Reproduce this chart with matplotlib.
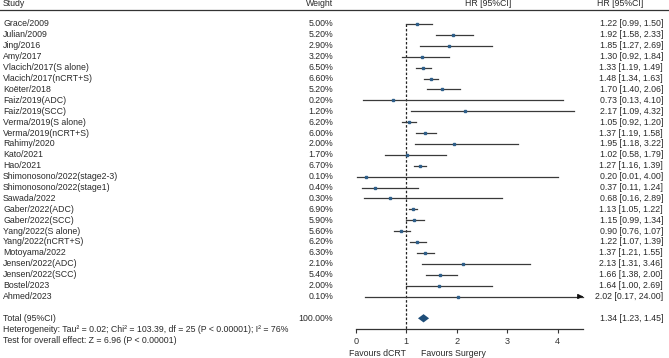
import matplotlib
matplotlib.use("Agg")
import matplotlib.pyplot as plt
import matplotlib.transforms as mtransforms
import numpy as np

plt.rcParams['font.family'] = ['Liberation Sans', 'DejaVu Sans']

studies = ["Grace/2009", "Julian/2009", "Jing/2016", "Amy/2017", "Vlacich/2017(S alone)",
           "Vlacich/2017(nCRT+S)", "Koëter/2018", "Faiz/2019(ADC)", "Faiz/2019(SCC)",
           "Verma/2019(S alone)", "Verma/2019(nCRT+S)", "Rahimy/2020", "Kato/2021", "Hao/2021",
           "Shimonosono/2022(stage2-3)", "Shimonosono/2022(stage1)", "Sawada/2022",
           "Gaber/2022(ADC)", "Gaber/2022(SCC)", "Yang/2022(S alone)", "Yang/2022(nCRT+S)",
           "Motoyama/2022", "Jensen/2022(ADC)", "Jensen/2022(SCC)", "Bostel/2023", "Ahmed/2023"]
weights = ["5.00%", "5.20%", "2.90%", "3.20%", "6.50%", "6.60%", "5.20%", "0.20%", "1.20%",
           "6.20%", "6.00%", "2.00%", "1.70%", "6.70%", "0.10%", "0.40%", "0.30%", "6.90%",
           "5.90%", "5.60%", "6.20%", "6.30%", "2.10%", "5.40%", "2.00%", "0.10%"]
hr = [1.22, 1.92, 1.85, 1.30, 1.33, 1.48, 1.70, 0.73, 2.17, 1.05, 1.37, 1.95, 1.02, 1.27,
      0.20, 0.37, 0.68, 1.13, 1.15, 0.90, 1.22, 1.37, 2.13, 1.66, 1.64, 2.02]
lo = [0.99, 1.58, 1.27, 0.92, 1.19, 1.34, 1.40, 0.13, 1.09, 0.92, 1.19, 1.18, 0.58, 1.16,
      0.01, 0.11, 0.16, 1.05, 0.99, 0.76, 1.07, 1.21, 1.31, 1.38, 1.00, 0.17]
hi = [1.50, 2.33, 2.69, 1.84, 1.49, 1.63, 2.06, 4.10, 4.32, 1.20, 1.58, 3.22, 1.79, 1.39,
      4.00, 1.24, 2.89, 1.22, 1.34, 1.07, 1.39, 1.55, 3.46, 2.00, 2.69, 24.00]
total_hr, total_lo, total_hi = 1.34, 1.23, 1.45
total_weight = "100.00%"
heterogeneity = "Heterogeneity: Tau² = 0.02; Chi² = 103.39, df = 25 (P < 0.00001); I² = 76%"
overall = "Test for overall effect: Z = 6.96 (P < 0.00001)"
xticks = [0, 1, 2, 3, 4]

W, H = 669, 358
fig = plt.figure(figsize=(W / 100, H / 100), dpi=100)

x0_px, unit_px = 356.0, 50.4
xmax = 4.5
row0_px, row_h = 24.0, 10.9
top_row, bot_row = -2.0, 28.0
top_px = row0_px + top_row * row_h
bot_px = row0_px + bot_row * row_h
ax = fig.add_axes([x0_px / W, 1 - bot_px / H, xmax * unit_px / W, (bot_px - top_px) / H])
ax.set_xlim(0, xmax)
ax.set_ylim(bot_row, top_row)
for s in ["top", "right", "left"]:
    ax.spines[s].set_visible(False)
ax.spines["bottom"].set_color("#333333")
ax.spines["bottom"].set_linewidth(0.9)
ax.set_yticks([])
ax.set_xticks(xticks)
ax.tick_params(axis="x", length=3, width=0.8, colors="#333333", labelsize=6.6, pad=2.5)
ax.patch.set_alpha(0)

txtc = "#2a2a2a"
fs = 6.3
n = len(studies)
rows = np.arange(n)

# reference line
ax.plot([1, 1], [0, bot_row], ls=(0, (2, 1.5)), color="#222222", lw=0.9, zorder=1)

for i in range(n):
    h = min(hi[i], xmax)
    ax.plot([lo[i], h], [i, i], color="#3a3a3a", lw=0.9, zorder=2, clip_on=False)
    if hi[i] > xmax:
        ax.annotate("", xy=(xmax + 0.06, i), xytext=(xmax - 0.08, i),
                    arrowprops=dict(arrowstyle="-|>", color="#111111", lw=0.9,
                                    mutation_scale=7), annotation_clip=False)
ax.plot(hr, rows, ls="none", marker="s", ms=1.9, color="#2f5f8a", zorder=3)

total_row = n + 1
ax.fill([total_lo, total_hr, total_hi, total_hr],
        [total_row, total_row - 0.38, total_row, total_row + 0.38],
        color="#1f4e79", zorder=3, lw=0)

# texts
tr = mtransforms.blended_transform_factory(fig.transFigure, ax.transData)
xs_study = 3 / W
xs_weight = 333 / W
xs_hr1 = 488 / W
xs_hr2 = 663 / W

head_row = -1.85
ax.text(xs_study, head_row, "Study", transform=tr, fontsize=fs, color=txtc, va="center", ha="left")
ax.text(xs_weight, head_row, "Weight", transform=tr, fontsize=fs, color=txtc, va="center", ha="right")
ax.text(xs_hr1, head_row, "HR [95%CI]", transform=tr, fontsize=fs, color=txtc, va="center", ha="center")
ax.text(643 / W, head_row, "HR [95%CI]", transform=tr, fontsize=fs, color=txtc, va="center", ha="right")
ax.plot([0, 1], [-1.3, -1.3], transform=tr, color="#333333", lw=0.9, clip_on=False)

for i in range(n):
    ax.text(xs_study, i, studies[i], transform=tr, fontsize=fs, color=txtc, va="center", ha="left")
    ax.text(xs_weight, i, weights[i], transform=tr, fontsize=fs, color=txtc, va="center", ha="right")
    ax.text(xs_hr2, i, f"{hr[i]:.2f} [{lo[i]:.2f}, {hi[i]:.2f}]", transform=tr, fontsize=fs,
            color=txtc, va="center", ha="right")

ax.text(xs_study, total_row, "Total (95%CI)", transform=tr, fontsize=fs, color=txtc, va="center", ha="left")
ax.text(xs_weight, total_row, total_weight, transform=tr, fontsize=fs, color=txtc, va="center", ha="right")
ax.text(xs_hr2, total_row, f"{total_hr:.2f} [{total_lo:.2f}, {total_hi:.2f}]", transform=tr,
        fontsize=fs, color=txtc, va="center", ha="right")
ax.text(xs_study, total_row + 1.02, heterogeneity, transform=tr, fontsize=fs, color=txtc, va="center", ha="left")
ax.text(xs_study, total_row + 2.03, overall, transform=tr, fontsize=fs, color=txtc, va="center", ha="left")

trx = mtransforms.blended_transform_factory(ax.transData, fig.transFigure)
ax.text(1.0, 1 - 353 / H, "Favours dCRT", transform=trx, fontsize=6.3, color=txtc, va="center", ha="right")
ax.text(1.29, 1 - 353 / H, "Favours Surgery", transform=trx, fontsize=6.3, color=txtc, va="center", ha="left")

fig.savefig("out.png", dpi=100, facecolor="white")
